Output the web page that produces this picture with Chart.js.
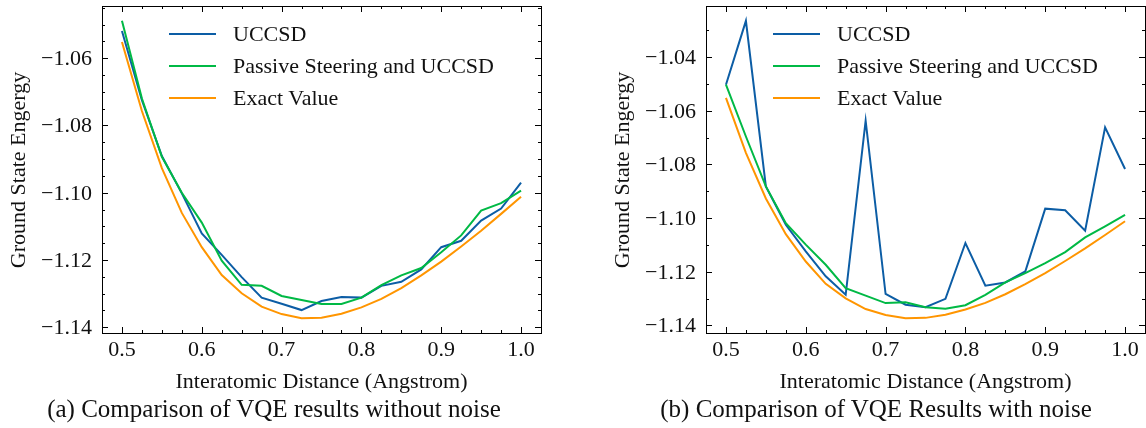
<!DOCTYPE html>
<html>
<head>
<meta charset="utf-8">
<script src="https://cdn.jsdelivr.net/npm/chart.js@4.4.1/dist/chart.umd.min.js"></script>
<style>
  html, body { margin: 0; padding: 0; background: #fff; }
  body { width: 1146px; height: 428px; position: relative; overflow: hidden; }
  .box { position: absolute; top: 0; height: 395px; }
  #boxA { left: 0; width: 560px; }
  #boxB { left: 604px; width: 542px; }
  .caption { position: absolute; top: 395px; font-family: 'Liberation Serif'; font-size: 25px; color: #111; white-space: nowrap; transform: translateX(-50%); }
  .lbl { position: absolute; white-space: nowrap; font-family: 'Liberation Serif'; font-size: 22px; line-height: 22px; color: #111; }
  .mid { transform: translate(-50%, -50%); }
  .right { transform: translate(-100%, -50%); }
  .left { transform: translate(0, -50%); }
  .vert { transform: translate(-50%, -50%) rotate(-90deg); }
  .key { position: absolute; width: 47px; height: 2px; }
</style>
</head>
<body>
<div class="box" id="boxA"><canvas id="chartA"></canvas></div>
<div class="box" id="boxB"><canvas id="chartB"></canvas></div>
<div class="caption" style="left:274px">(a) Comparison of VQE results without noise</div>
<div class="caption" style="left:876px">(b) Comparison of VQE Results with noise</div>
<script>
var distance = [0.5, 0.525, 0.55, 0.575, 0.6, 0.625, 0.65, 0.675, 0.7, 0.725, 0.75,
                0.775, 0.8, 0.825, 0.85, 0.875, 0.9, 0.925, 0.95, 0.975, 1.0];

var exactValue = [-1.0552, -1.0757, -1.0927, -1.1060, -1.1162, -1.1245, -1.1299, -1.1339, -1.1361, -1.1373, -1.1372,
                  -1.1360, -1.1341, -1.1316, -1.1284, -1.1246, -1.1205, -1.1160, -1.1113, -1.1063, -1.1012];

// (a) without noise
var uccsdClean = [-1.0519, -1.0725, -1.0891, -1.1002, -1.1121, -1.1185, -1.1251, -1.1312, -1.1330, -1.1349, -1.1322,
                  -1.1310, -1.1312, -1.1277, -1.1265, -1.1228, -1.1162, -1.1143, -1.1083, -1.1047, -1.0970];
var steeredClean = [-1.0489, -1.0720, -1.0893, -1.1000, -1.1089, -1.1202, -1.1274, -1.1277, -1.1307, -1.1319, -1.1331,
                    -1.1331, -1.1312, -1.1275, -1.1246, -1.1224, -1.1177, -1.1127, -1.1053, -1.1031, -1.0994];

// (b) with noise
var uccsdNoisy = [-1.0503, -1.0265, -1.0882, -1.1025, -1.1124, -1.1217, -1.1286, -1.0637, -1.1283, -1.1323, -1.1332,
                  -1.1301, -1.1093, -1.1252, -1.1240, -1.1199, -1.0965, -1.0971, -1.1047, -1.0662, -1.0817];
var steeredNoisy = [-1.0503, -1.0696, -1.0882, -1.1019, -1.1099, -1.1174, -1.1261, -1.1289, -1.1317, -1.1314, -1.1332,
                    -1.1338, -1.1325, -1.1286, -1.1240, -1.1205, -1.1168, -1.1127, -1.1072, -1.1031, -1.0988];

var xTicks = [0.5, 0.6, 0.7, 0.8, 0.9, 1.0];
var yTicksA = [-1.14, -1.12, -1.10, -1.08, -1.06];
var yTicksB = [-1.14, -1.12, -1.10, -1.08, -1.06, -1.04];

var xTitle = 'Interatomic Distance (Angstrom)';
var yTitle = 'Ground State Engergy';

var blue = '#0C5DA5', green = '#00B945', orange = '#FF9500';

function points(ys) {
    return distance.map(function(x, i) { return {x: x, y: ys[i]}; });
}

// matplotlib style limits: 5% margin around the data
function limits(arrays) {
    var all = [].concat.apply([], arrays);
    var lo = Math.min.apply(null, all), hi = Math.max.apply(null, all);
    var pad = (hi - lo) * 0.05;
    return [lo - pad, hi + pad];
}

// frame with inward ticks on all four sides
const frameTicks = {
    id: 'frameTicks',
    afterDraw(chart, args, opts) {
        const ctx = chart.ctx, a = chart.chartArea;
        const sx = chart.scales.x, sy = chart.scales.y;
        ctx.save();
        ctx.strokeStyle = '#000';
        ctx.lineWidth = 1;
        ctx.strokeRect(Math.round(a.left) + 0.5, Math.round(a.top) + 0.5,
                       Math.round(a.right - a.left), Math.round(a.bottom - a.top));
        ctx.beginPath();
        function run(scale, step, len) {
            const first = Math.ceil(scale.min / step - 1e-6), last = Math.floor(scale.max / step + 1e-6);
            for (let k = first; k <= last; k++) {
                const p = Math.round(scale.getPixelForValue(k * step)) + 0.5;
                if (scale.isHorizontal()) {
                    ctx.moveTo(p, a.bottom); ctx.lineTo(p, a.bottom - len);
                    ctx.moveTo(p, a.top); ctx.lineTo(p, a.top + len);
                } else {
                    ctx.moveTo(a.left, p); ctx.lineTo(a.left + len, p);
                    ctx.moveTo(a.right, p); ctx.lineTo(a.right - len, p);
                }
            }
        }
        run(sx, opts.xMajor, 6);
        run(sx, opts.xMinor, 3);
        run(sy, opts.yMajor, 6);
        run(sy, opts.yMinor, 3);
        ctx.stroke();
        ctx.restore();
    }
};

function makeChart(id, uccsd, steered, yTicks, yMinor, padRight) {
    var xl = limits([distance]);
    var yl = limits([uccsd, steered, exactValue]);
    return new Chart(document.getElementById(id), {
        type: 'line',
        data: {
            datasets: [
                {label: 'UCCSD', data: points(uccsd), borderColor: blue, borderWidth: 2, order: 2},
                {label: 'Passive Steering and UCCSD', data: points(steered), borderColor: green, borderWidth: 2, order: 1},
                {label: 'Exact Value', data: points(exactValue), borderColor: orange, borderWidth: 2, order: 0}
            ]
        },
        options: {
            responsive: true,
            maintainAspectRatio: false,
            animation: false,
            layout: {padding: {top: 6, right: padRight, left: 0, bottom: 0}},
            elements: {point: {radius: 0}, line: {tension: 0}},
            plugins: {
                legend: {display: false},
                tooltip: {enabled: false},
                frameTicks: {xMajor: 0.1, xMinor: 0.025, yMajor: 0.02, yMinor: yMinor}
            },
            scales: {
                x: {
                    type: 'linear',
                    min: xl[0], max: xl[1],
                    afterBuildTicks: function(s) { s.ticks = xTicks.map(function(v) { return {value: v}; }); },
                    afterFit: function(s) { s.height = 62; s.paddingLeft = 0; s.paddingRight = 0; },
                    grid: {display: false, drawTicks: false},
                    border: {display: false},
                    ticks: {display: false}
                },
                y: {
                    type: 'linear',
                    min: yl[0], max: yl[1],
                    afterBuildTicks: function(s) { s.ticks = yTicks.map(function(v) { return {value: v}; }); },
                    afterFit: function(s) { s.width = 102; s.paddingTop = 0; s.paddingBottom = 0; },
                    grid: {display: false, drawTicks: false},
                    border: {display: false},
                    ticks: {display: false}
                }
            }
        },
        plugins: [frameTicks]
    });
}

// the canvas falls back to a sans face here, so the texts are set as html
// at the positions the chart's own scales give
function addText(box, text, x, y, cls) {
    var d = document.createElement('div');
    d.className = 'lbl ' + cls;
    d.textContent = text;
    d.style.left = x + 'px';
    d.style.top = y + 'px';
    box.appendChild(d);
}

function labelChart(chart, boxId, yTicks) {
    var box = document.getElementById(boxId);
    var a = chart.chartArea, sx = chart.scales.x, sy = chart.scales.y;
    xTicks.forEach(function(v) {
        addText(box, v.toFixed(1), sx.getPixelForValue(v), a.bottom + 16, 'mid');
    });
    yTicks.forEach(function(v) {
        addText(box, v.toFixed(2).replace('-', '\u2212'), a.left - 10, sy.getPixelForValue(v), 'right');
    });
    addText(box, xTitle, (a.left + a.right) / 2, a.bottom + 48, 'mid');
    addText(box, yTitle, 18, (a.top + a.bottom) / 2, 'vert');
    chart.data.datasets.forEach(function(ds, i) {
        var y = a.top + 28 + i * 32;
        var key = document.createElement('div');
        key.className = 'key';
        key.style.left = (a.left + 67) + 'px';
        key.style.top = (y - 1) + 'px';
        key.style.background = ds.borderColor;
        box.appendChild(key);
        addText(box, ds.label, a.left + 131, y, 'left');
    });
}

var chartA = makeChart('chartA', uccsdClean, steeredClean, yTicksA, 0.005, 19);
var chartB = makeChart('chartB', uccsdNoisy, steeredNoisy, yTicksB, 0.01, 1);
labelChart(chartA, 'boxA', yTicksA);
labelChart(chartB, 'boxB', yTicksB);
</script>
</body>
</html>
